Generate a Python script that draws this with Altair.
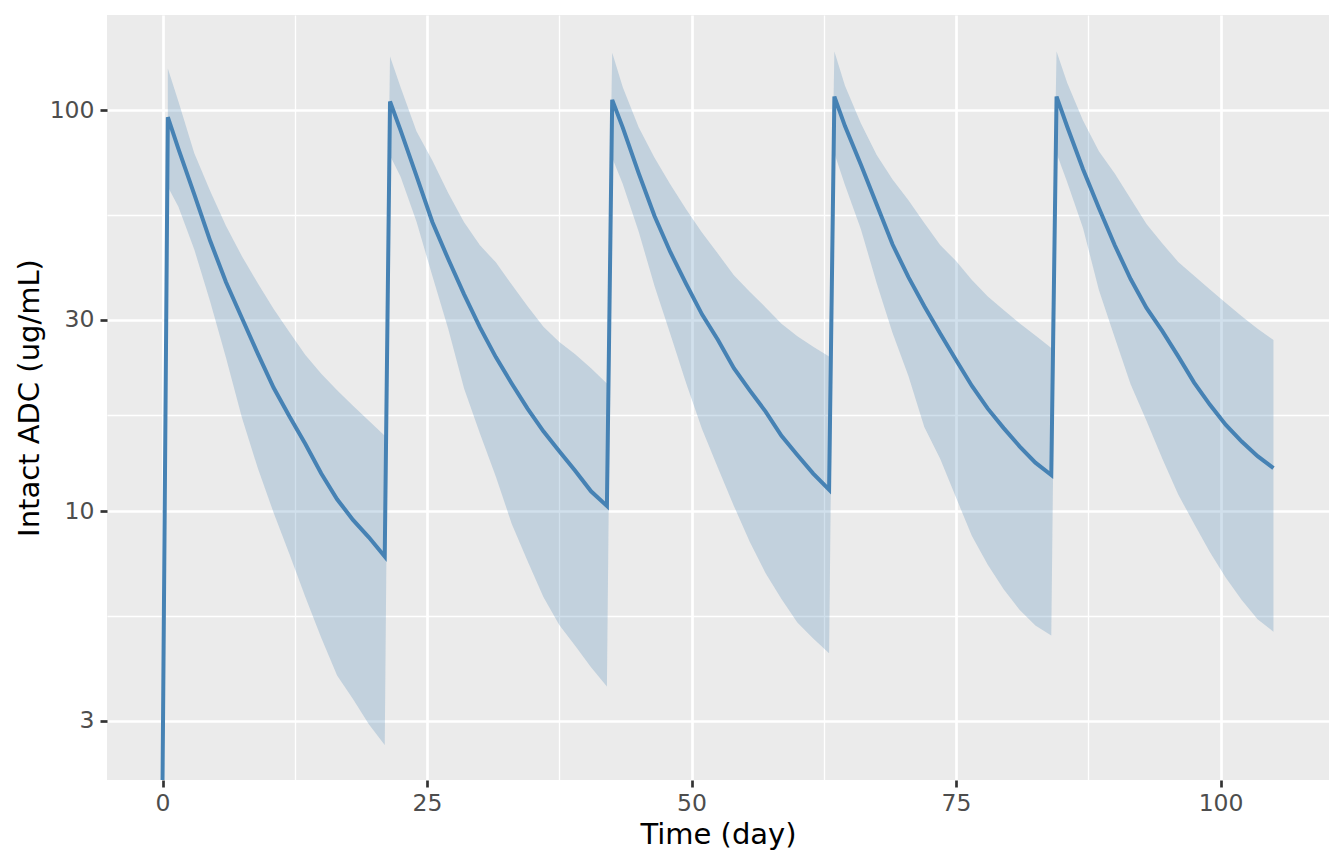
import altair as alt
import pandas as pd

# simulated ADC profile, 5 doses every 21 days: median and 90% band
time_day = [
    0.5, 1.5, 3, 4.5, 6, 7.5, 9, 10.5, 12, 13.5, 15, 16.5, 18, 19.5, 21,
    21.5, 22.5, 24, 25.5, 27, 28.5, 30, 31.5, 33, 34.5, 36, 37.5, 39, 40.5, 42,
    42.5, 43.5, 45, 46.5, 48, 49.5, 51, 52.5, 54, 55.5, 57, 58.5, 60, 61.5, 63,
    63.5, 64.5, 66, 67.5, 69, 70.5, 72, 73.5, 75, 76.5, 78, 79.5, 81, 82.5, 84,
    84.5, 85.5, 87, 88.5, 90, 91.5, 93, 94.5, 96, 97.5, 99, 100.5, 102, 103.5, 105,
]
conc_median = [
    96, 80, 61.6, 47.2, 37.2, 30.3, 24.7, 20.3, 17.2, 14.7, 12.4, 10.7, 9.5, 8.6, 7.7,
    105, 89, 68.5, 52.6, 42.5, 34.7, 28.7, 24.2, 20.8, 18.0, 15.8, 14.1, 12.6, 11.2, 10.3,
    106, 90.4, 69.6, 54.4, 44.2, 36.8, 30.9, 26.7, 22.7, 20.0, 17.7, 15.4, 13.8, 12.4, 11.3,
    108, 91.2, 73.1, 58.1, 46.2, 38.3, 32.4, 27.7, 23.8, 20.5, 18.0, 16.1, 14.5, 13.2, 12.3,
    108, 91, 71.2, 57, 46, 37.9, 32.1, 28.1, 24.3, 20.9, 18.4, 16.4, 14.9, 13.7, 12.8,
]
conc_upper = [
    127, 105, 78, 62.8, 51.4, 43.2, 37.0, 31.9, 27.9, 24.5, 22.0, 20.0, 18.3, 16.8, 15.4,
    136, 114, 88.5, 74.8, 62.1, 52.5, 46.0, 41.7, 36.7, 32.4, 28.8, 26.4, 24.6, 22.7, 20.8,
    139, 114, 90.6, 76.0, 65.2, 56.5, 49.4, 43.8, 38.7, 35.2, 32.2, 29.3, 27.3, 25.7, 24.3,
    140, 115, 92.7, 77.2, 67.1, 59.6, 52.3, 46.1, 42.0, 37.7, 34.3, 31.7, 29.4, 27.4, 25.5,
    140, 117, 94.2, 78.9, 69.5, 60.1, 52.0, 46.5, 41.8, 38.6, 35.7, 33.0, 30.6, 28.5, 26.7,
]
conc_lower = [
    64.4, 57.4, 44.9, 33.3, 24.1, 17.1, 12.8, 9.9, 7.8, 6.1, 4.83, 3.89, 3.40, 2.94, 2.61,
    77, 68.2, 52.7, 38.6, 28.5, 20.2, 15.6, 12.2, 9.3, 7.5, 6.1, 5.2, 4.61, 4.08, 3.65,
    76, 65.4, 49.8, 36.4, 27.6, 20.8, 16.0, 12.8, 10.3, 8.38, 7.0, 6.03, 5.27, 4.81, 4.42,
    78, 65.0, 50.5, 37.0, 27.8, 21.7, 16.2, 13.5, 10.8, 8.67, 7.35, 6.38, 5.67, 5.18, 4.89,
    78, 66.2, 50.8, 35.6, 27.1, 20.7, 16.8, 13.5, 11.0, 9.29, 7.89, 6.82, 6.0, 5.37, 5.0,
]
# pre-dose point, falls below the bottom of the log axis
start_time = 0
start_conc = 2.1

x_major = [0, 25, 50, 75, 100]
x_minor = [12.5, 37.5, 62.5, 87.5]
y_major = [3, 10, 30, 100]
y_minor = [5.477, 17.32, 54.77]

profile = pd.DataFrame({"time": [start_time] + time_day, "conc": [start_conc] + conc_median})
band = pd.DataFrame({"time": time_day, "lower": conc_lower, "upper": conc_upper})


def major_test(values):
    return "indexof(%s, datum.value) >= 0" % str(values)


def grid_axis(major, minor, **kwargs):
    test = major_test(major)
    return alt.Axis(
        values=sorted(major + minor),
        labelExpr="%s ? datum.value + '' : ''" % test,
        tickOpacity={"condition": {"test": test, "value": 1}, "value": 0},
        gridWidth={"condition": {"test": test, "value": 2.7}, "value": 1.35},
        **kwargs,
    )


x_axis = grid_axis(
    x_major, x_minor,
    labelBaseline="alphabetic", labelPadding=23,
    titleBaseline="alphabetic", titleX=611, titleY=63,
)
y_axis = grid_axis(
    y_major, y_minor,
    labelPadding=6,
    titleBaseline="alphabetic", titleAngle=-90, titleX=-69, titleY=382.5,
)
x_scale = alt.Scale(domain=[-5.25, 110.25], nice=False, zero=False)
y_scale = alt.Scale(type="log", domain=[2.134, 172.6], nice=False)

ribbon = (
    alt.Chart(band)
    .mark_area(color="#4682B4", opacity=0.25, clip=True)
    .encode(
        alt.X("time:Q").scale(x_scale).axis(x_axis).title("Time (day)"),
        alt.Y("lower:Q").scale(y_scale).axis(y_axis).title("Intact ADC (ug/mL)"),
        alt.Y2("upper:Q"),
    )
)

median_line = (
    alt.Chart(profile)
    .mark_line(color="#4682B4", strokeWidth=4, clip=True)
    .encode(
        alt.X("time:Q").scale(x_scale).axis(x_axis).title("Time (day)"),
        alt.Y("conc:Q").scale(y_scale).axis(y_axis).title("Intact ADC (ug/mL)"),
    )
)

chart = (
    alt.layer(ribbon, median_line)
    .properties(
        width=1222,
        height=765,
        autosize="none",
        padding={"left": 99, "top": 7, "right": 7, "bottom": 70},
    )
    .configure_view(fill="#EBEBEB", strokeWidth=0)
    .configure_axis(
        domain=False,
        gridColor="white",
        tickColor="#333333",
        tickWidth=2.7,
        tickSize=7,
        labelFont="DejaVu Sans",
        labelFontSize=23.5,
        labelColor="#4D4D4D",
        titleFont="DejaVu Sans",
        titleFontSize=29,
        titleFontWeight="normal",
        titleColor="black",
    )
)

chart.save("out.html", embed_options={"renderer": "svg", "actions": False})
